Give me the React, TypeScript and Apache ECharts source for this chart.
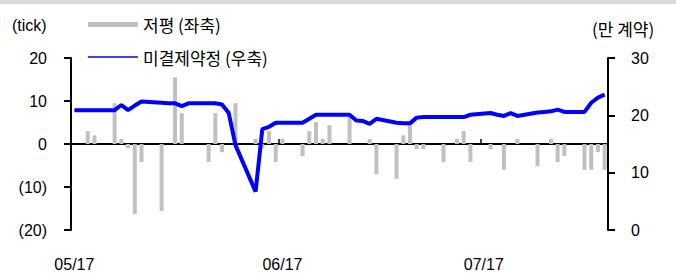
import React, { useEffect, useRef } from "react";
import * as echarts from "echarts";

// Calendar days 05/17 .. 08/04
const dates: string[] = [
  "05/17", "05/18", "05/19", "05/20", "05/21", "05/22", "05/23", "05/24", "05/25", "05/26",
  "05/27", "05/28", "05/29", "05/30", "05/31",
  "06/01", "06/02", "06/03", "06/04", "06/05", "06/06", "06/07", "06/08", "06/09", "06/10",
  "06/11", "06/12", "06/13", "06/14", "06/15", "06/16", "06/17", "06/18", "06/19", "06/20",
  "06/21", "06/22", "06/23", "06/24", "06/25", "06/26", "06/27", "06/28", "06/29", "06/30",
  "07/01", "07/02", "07/03", "07/04", "07/05", "07/06", "07/07", "07/08", "07/09", "07/10",
  "07/11", "07/12", "07/13", "07/14", "07/15", "07/16", "07/17", "07/18", "07/19", "07/20",
  "07/21", "07/22", "07/23", "07/24", "07/25", "07/26", "07/27", "07/28", "07/29", "07/30",
  "07/31", "08/01", "08/02", "08/03", "08/04",
];

// 저평 (tick), left axis; null = no trading
const basis: (number | null)[] = [
  0, 0, 3, 2, null, null, 9.5, 1.2, -1, -16.3,
  -4.2, null, null, -15.6, 0, 15.5, 7.2, 0, null, null,
  -4.2, 7.2, -1.9, 0, 9.5, null, null, 1.2, -1, 3,
  -4.2, 1.2, null, null, -2.8, 3, 5.1, 1.2, 4.4, null,
  null, 6.3, 0, 0, 1.2, -7, null, null, -8.1, 2,
  4.4, -1.2, -1.2, null, null, -4.2, 0, 1.2, 3, -4.2,
  null, null, -1.2, 0, -6, 0, 1.2, null, null, -5.1,
  0, 1.2, -4.2, -2.8, null, null, -6, -6, -1.9, -6,
];

// 미결제약정 (만 계약), right axis
const openInterest: (number | null)[] = [
  20.9, 20.9, 20.9, 20.9, null, null, 20.9, 21.8, 20.9, 21.7,
  22.4, null, null, 22.2, 22.1, 22.1, 21.6, 22.1, null, null,
  22.1, 22.1, 21.9, 20.4, 14.8, null, null, 6.7, 17.6, 18.0,
  18.7, 18.7, null, null, 18.7, 19.4, 20.1, 20.1, 20.1, null,
  null, 20.1, 19.1, 19.0, 18.5, 19.4, null, null, 18.7, 18.6,
  18.6, 19.6, 19.7, null, null, 19.7, 19.7, 19.7, 19.7, 20.1,
  null, null, 20.4, 20.1, 19.9, 20.4, 19.9, null, null, 20.5,
  20.6, 20.7, 21.0, 20.6, null, null, 20.6, 22.2, 23.1, 23.6,
];

const shownLabels = ["05/17", "06/17", "07/17"];
const tickDates = ["06/17", "07/17"];

const NUM_FONT = "'Liberation Sans', Arial, sans-serif";
const KR_FONT = "'Noto Sans CJK KR', 'Noto Sans', sans-serif";

export default function App() {
  const ref = useRef<HTMLDivElement>(null);

  useEffect(() => {
    if (!ref.current) return;
    const chart = echarts.init(ref.current, null, { renderer: "svg" });
    chart.setOption({
      animation: false,
      backgroundColor: "#ffffff",
      grid: { left: 71, right: 68, top: 58, bottom: 43, containLabel: false },
      xAxis: [
        {
          type: "category",
          data: dates,
          boundaryGap: true,
          position: "bottom",
          axisLine: { show: true, onZero: true, onZeroAxisIndex: 0, lineStyle: { color: "#000", width: 2 } },
          axisTick: {
            show: true,
            inside: true,
            length: 5,
            lineStyle: { color: "#000", width: 1.5 },
            interval: (i: number, v: string) => tickDates.includes(v),
          },
          axisLabel: { show: false },
          splitLine: { show: false },
        },
        {
          type: "category",
          data: dates,
          boundaryGap: true,
          position: "bottom",
          axisLine: { show: false, onZero: false },
          axisTick: { show: false },
          axisLabel: {
            show: true,
            margin: 26,
            color: "#000",
            fontSize: 16,
            fontFamily: NUM_FONT,
            interval: (i: number, v: string) => shownLabels.includes(v),
          },
          splitLine: { show: false },
        },
      ],
      yAxis: [
        {
          type: "value",
          position: "left",
          min: -20,
          max: 20,
          interval: 10,
          axisLine: { show: true, lineStyle: { color: "#000", width: 2 } },
          axisTick: { show: true, length: 7, lineStyle: { color: "#000", width: 2 } },
          axisLabel: {
            margin: 24,
            color: "#000",
            fontSize: 16,
            fontFamily: NUM_FONT,
            formatter: (v: number) => (v < 0 ? `(${-v})` : `${v}`),
          },
          splitLine: { show: false },
        },
        {
          type: "value",
          position: "right",
          min: 0,
          max: 30,
          interval: 10,
          axisLine: { show: true, lineStyle: { color: "#000", width: 2 } },
          axisTick: { show: true, length: 7, lineStyle: { color: "#000", width: 2 } },
          axisLabel: { margin: 23, color: "#000", fontSize: 16, fontFamily: NUM_FONT },
          splitLine: { show: false },
        },
      ],
      series: [
        {
          name: "저평 (좌축)",
          type: "bar",
          xAxisIndex: 0,
          yAxisIndex: 0,
          data: basis,
          barWidth: 4,
          itemStyle: { color: "#C0C0C0" },
          z: 2,
        },
        {
          name: "미결제약정 (우축)",
          type: "line",
          xAxisIndex: 0,
          yAxisIndex: 1,
          data: openInterest,
          connectNulls: true,
          showSymbol: false,
          symbol: "none",
          lineStyle: { color: "#0000FF", width: 4 },
          itemStyle: { color: "#0000FF" },
          z: 3,
        },
      ],
      graphic: [
        { type: "rect", left: 0, top: 0, shape: { width: 676, height: 4 }, style: { fill: "#D9D9D9" }, silent: true },
        {
          type: "text",
          x: 12,
          y: 25,
          style: { text: "(tick)", fontSize: 16, fontFamily: NUM_FONT, fill: "#000", verticalAlign: "middle" },
        },
        {
          type: "text",
          x: 592,
          y: 28,
          style: { text: "(만 계약)", fontSize: 17, fontFamily: KR_FONT, fill: "#000", verticalAlign: "middle" },
        },
        { type: "rect", shape: { x: 88, y: 22, width: 50, height: 5 }, style: { fill: "#C0C0C0" } },
        {
          type: "text",
          x: 143,
          y: 24.5,
          style: { text: "저평 (좌축)", fontSize: 17, fontFamily: KR_FONT, fill: "#000", verticalAlign: "middle" },
        },
        { type: "line", shape: { x1: 88, y1: 57, x2: 138, y2: 57 }, style: { stroke: "#0000FF", lineWidth: 1.5 } },
        {
          type: "text",
          x: 143,
          y: 57,
          style: { text: "미결제약정 (우축)", fontSize: 17, fontFamily: KR_FONT, fill: "#000", verticalAlign: "middle" },
        },
      ],
    });
    return () => chart.dispose();
  }, []);

  return (
    <div
      ref={ref}
      style={{ position: "fixed", left: 0, top: 0, width: 676, height: 273, background: "#fff" }}
    />
  );
}
